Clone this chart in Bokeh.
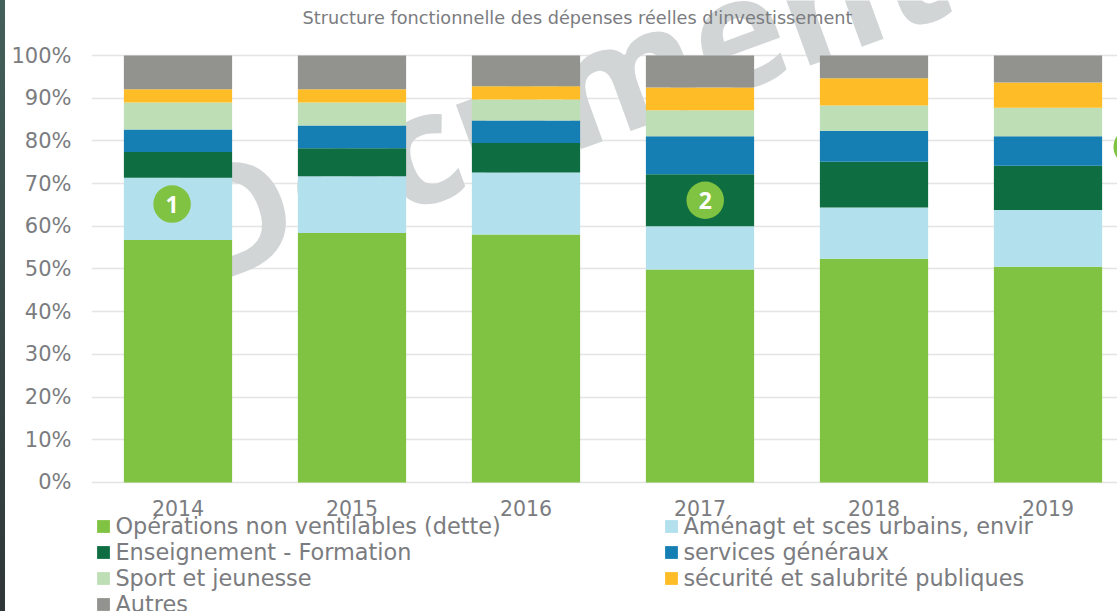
from bokeh.plotting import figure
from bokeh.layouts import row
from bokeh.models import Legend, LegendItem, PrintfTickFormatter, FixedTicker, Range1d, Spacer, Label
from bokeh.core.properties import value
from bokeh.embed import file_html
from bokeh.resources import INLINE

years = [2014, 2015, 2016, 2017, 2018, 2019]
operations = [56.8, 58.4, 58.1, 49.9, 52.4, 50.5]
amenagement = [14.6, 13.3, 14.5, 10.1, 12.0, 13.3]
enseignement = [6.0, 6.6, 6.9, 12.2, 10.7, 10.4]
services = [5.3, 5.3, 5.3, 8.9, 7.3, 6.9]
sport = [6.3, 5.4, 4.9, 6.1, 5.9, 6.7]
securite = [3.1, 3.1, 3.1, 5.3, 6.4, 5.9]
autres = [7.9, 7.9, 7.2, 7.5, 5.3, 6.3]

names = ["Opérations non ventilables (dette)", "Aménagt et sces urbains, envir", "Enseignement - Formation",
         "services généraux", "Sport et jeunesse", "sécurité et salubrité publiques", "Autres"]
series = [operations, amenagement, enseignement, services, sport, securite, autres]
colors = ["#80c241", "#b2e0ec", "#0e6e41", "#157fb3", "#bedfb5", "#febd26", "#92938f"]

badge_x = [2013.966, 2017.03, 2019.484]
badge_y = [65.2, 66.1, 78.6]
badge_text = ["1", "2", "3"]

chart_title = "Structure fonctionnelle des dépenses réelles d'investissement"
watermark = "Document"

TXT = "#7b7c80"
STRIP = 5
W, H = 1117 - STRIP, 611
L = 91 - STRIP

p = figure(width=W, height=H, output_backend="svg", toolbar_location=None,
           x_range=Range1d(2014 - 86.5 / 174, 2014 + 939.5 / 174), y_range=Range1d(-30.25, 112.9),
           min_border_left=L, min_border_right=0, min_border_top=0, min_border_bottom=0,
           outline_line_color=None, background_fill_color="white")

# watermark
p.text(x=[2014.014], y=[58.9], text=[watermark], angle=[0.35], text_font=value("Open Sans"),
       text_font_style="bold", text_font_size="155px", text_color="#d1d5d6", text_baseline="alphabetic")

p.xgrid.visible = False
p.ygrid.grid_line_color = "#e4e4e4"
p.ygrid.grid_line_width = 1.5
p.ygrid.ticker = FixedTicker(ticks=list(range(0, 101, 10)))

p.yaxis.ticker = FixedTicker(ticks=list(range(0, 101, 10)))
p.yaxis.formatter = PrintfTickFormatter(format="%d%%")
p.xaxis.ticker = FixedTicker(ticks=years)
p.xaxis.fixed_location = 0
for ax in (p.xaxis[0], p.yaxis[0]):
    ax.axis_line_color = None
    ax.major_tick_line_color = None
    ax.minor_tick_line_color = None
    ax.major_label_text_color = TXT
    ax.major_label_text_font = "DejaVu Sans"
p.yaxis[0].major_label_text_font_size = "21px"
p.xaxis[0].major_label_text_font_size = "20.5px"
p.yaxis[0].major_label_standoff = 14
p.xaxis[0].major_label_standoff = 12

bottom = [0.0] * len(years)
renderers = []
for name, vals, col in zip(names, series, colors):
    top = [b + v for b, v in zip(bottom, vals)]
    r = p.vbar(x=years, bottom=bottom, top=top, width=0.622, fill_color=col, line_color=None)
    renderers.append(r)
    bottom = top

p.ellipse(x=badge_x, y=badge_y, width=37.5, height=37.5, width_units="screen", height_units="screen",
          fill_color="#80c241", line_color=None)
p.text(x=badge_x, y=badge_y, text=badge_text, text_color="white", text_font=value("Open Sans"),
       text_font_style="bold", text_font_size="23px", text_align="center", text_baseline="middle")

left_idx = [0, 2, 4, 6]
right_idx = [1, 3, 5]
def mk(idx, loc):
    leg = Legend(items=[LegendItem(label=names[i], renderers=[renderers[i]]) for i in idx],
                 location=loc, orientation="vertical", background_fill_alpha=0, border_line_color=None,
                 label_text_font="DejaVu Sans", label_text_font_size="22.4px", label_text_color=TXT,
                 glyph_width=16, glyph_height=16, label_height=16, label_standoff=4, spacing=0,
                 margin=0, padding=0, label_text_line_height=1.0)
    p.add_layout(leg, "center")
    return leg
mk(left_idx, (4.4, -6))
mk(right_idx, (572.4, 20))

p.add_layout(Label(x=2014.716, y=108.9, text=chart_title, text_color=TXT, text_font="DejaVu Sans",
                   text_font_size="17.7px", text_align="left", text_baseline="middle"))

strip = Spacer(width=STRIP, height=H, styles={"background": "linear-gradient(#44605a, #2f3638)"})
layout = row(strip, p, spacing=0)
open("out.html", "w").write(file_html(layout, INLINE))
